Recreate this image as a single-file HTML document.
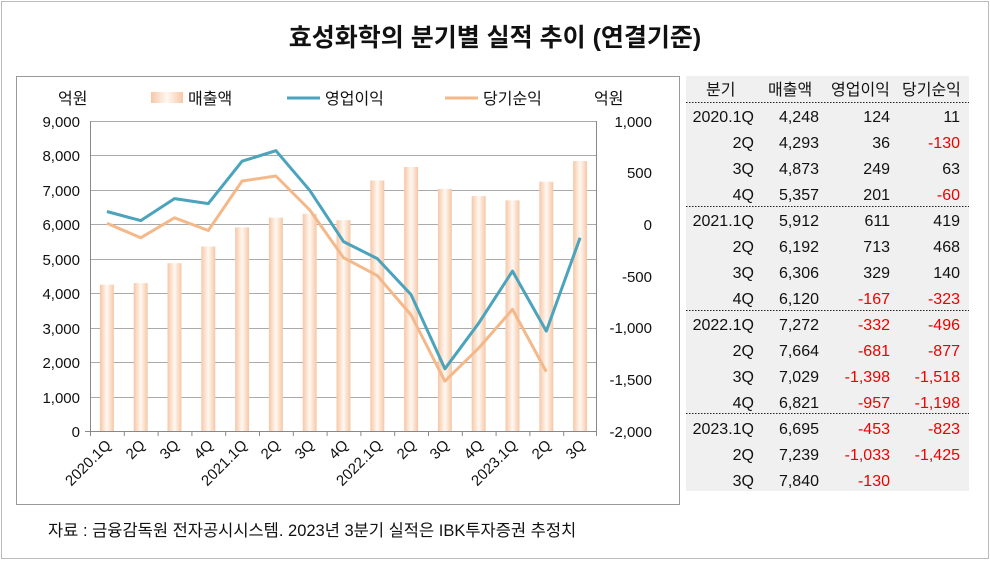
<!DOCTYPE html>
<html><head><meta charset="utf-8"><style>
body{margin:0;background:#fff;}
svg text{font-family:"Liberation Sans","Noto Sans CJK KR",sans-serif;}
</style></head><body>
<svg width="990" height="560" xmlns="http://www.w3.org/2000/svg">
<defs>
<linearGradient id="bg" x1="0" x2="1" y1="0" y2="0">
<stop offset="0" stop-color="#f6c7a6"/><stop offset="0.5" stop-color="#fff8f2"/><stop offset="1" stop-color="#f6c7a6"/>
</linearGradient>
</defs>
<rect x="1.5" y="1.5" width="987" height="557" fill="#fff" stroke="#bbb"/>
<text x="495" y="46" text-anchor="middle" font-size="25" font-weight="bold" fill="#111">효성화학의 분기별 실적 추이 (연결기준)</text>
<rect x="16.5" y="76.5" width="663" height="428" fill="#fff" stroke="#999"/>
<g stroke="#aaa" stroke-width="1">
<line x1="90" y1="121.5" x2="597" y2="121.5"/><line x1="90" y1="155.5" x2="597" y2="155.5"/>
<line x1="90" y1="190.5" x2="597" y2="190.5"/><line x1="90" y1="224.5" x2="597" y2="224.5"/>
<line x1="90" y1="259.5" x2="597" y2="259.5"/><line x1="90" y1="293.5" x2="597" y2="293.5"/>
<line x1="90" y1="328.5" x2="597" y2="328.5"/><line x1="90" y1="362.5" x2="597" y2="362.5"/>
<line x1="90" y1="397.5" x2="597" y2="397.5"/>
</g>
<g stroke="#888"><line x1="90.5" y1="121" x2="90.5" y2="431"/><line x1="596.5" y1="121" x2="596.5" y2="431"/>
<line x1="85" y1="431.5" x2="597" y2="431.5"/>
<line x1="90.5" y1="431" x2="90.5" y2="436"/><line x1="124.3" y1="431" x2="124.3" y2="436"/><line x1="158.1" y1="431" x2="158.1" y2="436"/><line x1="191.9" y1="431" x2="191.9" y2="436"/><line x1="225.7" y1="431" x2="225.7" y2="436"/><line x1="259.5" y1="431" x2="259.5" y2="436"/><line x1="293.3" y1="431" x2="293.3" y2="436"/><line x1="327.1" y1="431" x2="327.1" y2="436"/><line x1="360.9" y1="431" x2="360.9" y2="436"/><line x1="394.7" y1="431" x2="394.7" y2="436"/><line x1="428.5" y1="431" x2="428.5" y2="436"/><line x1="462.3" y1="431" x2="462.3" y2="436"/><line x1="496.1" y1="431" x2="496.1" y2="436"/><line x1="529.9" y1="431" x2="529.9" y2="436"/><line x1="563.7" y1="431" x2="563.7" y2="436"/><line x1="596.5" y1="431" x2="596.5" y2="436"/>
</g>
<g fill="url(#bg)">
<rect x="99.9" y="284.7" width="14" height="146.3"/><rect x="133.7" y="283.1" width="14" height="147.9"/>
<rect x="167.5" y="263.2" width="14" height="167.8"/><rect x="201.3" y="246.5" width="14" height="184.5"/>
<rect x="235.1" y="227.4" width="14" height="203.6"/><rect x="268.9" y="217.7" width="14" height="213.3"/>
<rect x="302.7" y="213.8" width="14" height="217.2"/><rect x="336.5" y="220.2" width="14" height="210.8"/>
<rect x="370.3" y="180.5" width="14" height="250.5"/><rect x="404.1" y="167" width="14" height="264"/>
<rect x="437.9" y="188.9" width="14" height="242.1"/><rect x="471.7" y="196.1" width="14" height="234.9"/>
<rect x="505.5" y="200.4" width="14" height="230.6"/><rect x="539.3" y="181.7" width="14" height="249.3"/>
<rect x="573.1" y="161" width="14" height="270"/>
</g>
<polyline fill="none" stroke="#4ba3bc" stroke-width="3" stroke-linejoin="round" points="106.9,211.5 140.7,220.6 174.5,198.6 208.3,203.6 242.1,161.2 275.9,150.7 309.7,190.3 343.5,241.6 377.3,258.6 411.1,294.7 444.9,368.8 478.7,323.2 512.5,271.1 546.3,331.1 580.1,237.8"/>
<polyline fill="none" stroke="#f4b98a" stroke-width="3" stroke-linejoin="round" points="106.9,223.2 140.7,237.8 174.5,217.8 208.3,230.5 242.1,181 275.9,176 309.7,209.9 343.5,257.7 377.3,275.6 411.1,315 444.9,381.2 478.7,348.1 512.5,309.4 546.3,371.6"/>
<g font-size="15" fill="#111" text-anchor="end">
<text x="80" y="127">9,000</text><text x="80" y="161">8,000</text><text x="80" y="196">7,000</text><text x="80" y="230">6,000</text><text x="80" y="265">5,000</text><text x="80" y="299">4,000</text><text x="80" y="334">3,000</text><text x="80" y="368">2,000</text><text x="80" y="403">1,000</text><text x="80" y="437">0</text>
</g>
<g font-size="15" fill="#111" text-anchor="end">
<text x="652" y="127">1,000</text><text x="652" y="178">500</text><text x="652" y="230">0</text><text x="652" y="282">-500</text><text x="652" y="333">-1,000</text><text x="652" y="385">-1,500</text><text x="652" y="437">-2,000</text>
</g>
<g font-size="16" fill="#111">
<text x="58" y="104">억원</text><text x="594" y="104">억원</text>
<rect x="151" y="92" width="32" height="11" fill="url(#bg)"/><text x="188" y="104">매출액</text>
<line x1="287" y1="98" x2="320" y2="98" stroke="#4ba3bc" stroke-width="3"/><text x="325" y="104">영업이익</text>
<line x1="445" y1="98" x2="478" y2="98" stroke="#f4b98a" stroke-width="3"/><text x="483" y="104">당기순익</text>
</g>
<g font-size="15" fill="#111" text-anchor="end">
<text transform="translate(112,446) rotate(-45)">2020.1Q</text>
<text transform="translate(146,446) rotate(-45)">2Q</text>
<text transform="translate(180,446) rotate(-45)">3Q</text>
<text transform="translate(214,446) rotate(-45)">4Q</text>
<text transform="translate(248,446) rotate(-45)">2021.1Q</text>
<text transform="translate(281,446) rotate(-45)">2Q</text>
<text transform="translate(315,446) rotate(-45)">3Q</text>
<text transform="translate(349,446) rotate(-45)">4Q</text>
<text transform="translate(383,446) rotate(-45)">2022.1Q</text>
<text transform="translate(417,446) rotate(-45)">2Q</text>
<text transform="translate(450,446) rotate(-45)">3Q</text>
<text transform="translate(484,446) rotate(-45)">4Q</text>
<text transform="translate(518,446) rotate(-45)">2023.1Q</text>
<text transform="translate(552,446) rotate(-45)">2Q</text>
<text transform="translate(586,446) rotate(-45)">3Q</text>
</g>
<text x="48" y="536" font-size="16.5" fill="#111">자료 : 금융감독원 전자공시시스템. 2023년 3분기 실적은 IBK투자증권 추정치</text>
<rect x="686" y="76" width="283" height="415" fill="#f0f0f0"/>
<g stroke="#222" stroke-dasharray="1.5,1.5"><line x1="686" y1="102.5" x2="969" y2="102.5"/><line x1="686" y1="206.5" x2="969" y2="206.5"/><line x1="686" y1="310.5" x2="969" y2="310.5"/><line x1="686" y1="413.5" x2="969" y2="413.5"/></g>
<g font-size="16" fill="#111">
<text x="706" y="95">분기</text><text x="768" y="95">매출액</text><text x="831" y="95">영업이익</text><text x="902" y="95">당기순익</text>
</g>
<g font-size="16" fill="#111" text-anchor="end">
<text x="754" y="122">2020.1Q</text><text x="819" y="122">4,248</text><text x="890" y="122">124</text><text x="960" y="122">11</text>
<text x="754" y="148">2Q</text><text x="819" y="148">4,293</text><text x="890" y="148">36</text><text x="960" y="148" fill="#e00">-130</text>
<text x="754" y="174">3Q</text><text x="819" y="174">4,873</text><text x="890" y="174">249</text><text x="960" y="174">63</text>
<text x="754" y="200">4Q</text><text x="819" y="200">5,357</text><text x="890" y="200">201</text><text x="960" y="200" fill="#e00">-60</text>
<text x="754" y="226">2021.1Q</text><text x="819" y="226">5,912</text><text x="890" y="226">611</text><text x="960" y="226">419</text>
<text x="754" y="252">2Q</text><text x="819" y="252">6,192</text><text x="890" y="252">713</text><text x="960" y="252">468</text>
<text x="754" y="278">3Q</text><text x="819" y="278">6,306</text><text x="890" y="278">329</text><text x="960" y="278">140</text>
<text x="754" y="304">4Q</text><text x="819" y="304">6,120</text><text x="890" y="304" fill="#e00">-167</text><text x="960" y="304" fill="#e00">-323</text>
<text x="754" y="330">2022.1Q</text><text x="819" y="330">7,272</text><text x="890" y="330" fill="#e00">-332</text><text x="960" y="330" fill="#e00">-496</text>
<text x="754" y="356">2Q</text><text x="819" y="356">7,664</text><text x="890" y="356" fill="#e00">-681</text><text x="960" y="356" fill="#e00">-877</text>
<text x="754" y="382">3Q</text><text x="819" y="382">7,029</text><text x="890" y="382" fill="#e00">-1,398</text><text x="960" y="382" fill="#e00">-1,518</text>
<text x="754" y="408">4Q</text><text x="819" y="408">6,821</text><text x="890" y="408" fill="#e00">-957</text><text x="960" y="408" fill="#e00">-1,198</text>
<text x="754" y="434">2023.1Q</text><text x="819" y="434">6,695</text><text x="890" y="434" fill="#e00">-453</text><text x="960" y="434" fill="#e00">-823</text>
<text x="754" y="460">2Q</text><text x="819" y="460">7,239</text><text x="890" y="460" fill="#e00">-1,033</text><text x="960" y="460" fill="#e00">-1,425</text>
<text x="754" y="486">3Q</text><text x="819" y="486">7,840</text><text x="890" y="486" fill="#e00">-130</text>
</g>
</svg>
</body></html>
